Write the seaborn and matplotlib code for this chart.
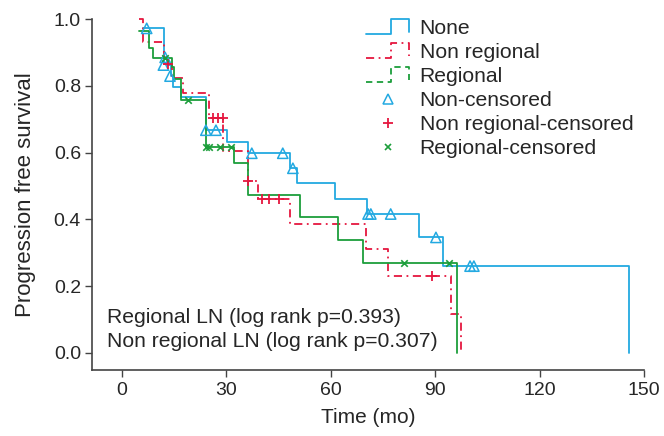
import numpy as np
import matplotlib
matplotlib.use("Agg")
import matplotlib.pyplot as plt
import seaborn as sns
from matplotlib.legend_handler import HandlerBase
from matplotlib.lines import Line2D

# step curves (time in months, progression free survival)
none_t = [6.1, 12.1, 13.0, 14.0, 14.8, 17.1, 24.1, 30.1, 36.1, 48.3, 50.2, 61.2, 70.5, 85.3, 92.3, 145.7]
none_s = [0.972, 0.885, 0.862, 0.829, 0.795, 0.765, 0.667, 0.633, 0.598, 0.553, 0.508, 0.462, 0.416, 0.346, 0.260, 0.0]

nonreg_t = [4.9, 6.1, 12.1, 14.5, 17.5, 25.0, 29.1, 36.1, 39.2, 48.3, 70.0, 76.3, 94.5, 97.3]
nonreg_s = [1.0, 0.932, 0.866, 0.822, 0.779, 0.703, 0.606, 0.515, 0.462, 0.386, 0.311, 0.231, 0.117, 0.0]

reg_t = [4.9, 7.8, 9.0, 14.3, 15.0, 17.1, 24.1, 32.2, 36.1, 51.1, 62.2, 69.3, 96.2]
reg_s = [0.965, 0.912, 0.884, 0.857, 0.820, 0.757, 0.618, 0.570, 0.474, 0.407, 0.339, 0.270, 0.0]

# censored observations
none_ct = [7.1, 12.4, 11.9, 13.8, 24.1, 27.0, 37.3, 46.2, 49.1, 70.7, 71.5, 77.2, 90.2, 100.0, 101.1]
none_cs = [0.972, 0.885, 0.862, 0.829, 0.667, 0.667, 0.598, 0.598, 0.553, 0.416, 0.416, 0.416, 0.346, 0.260, 0.260]

nonreg_ct = [13.3, 26.2, 27.7, 29.0, 36.3, 40.1, 42.1, 45.2, 89.0]
nonreg_cs = [0.866, 0.703, 0.703, 0.703, 0.515, 0.462, 0.462, 0.462, 0.231]

reg_ct = [12.4, 19.1, 24.1, 25.1, 28.2, 31.2, 81.1, 94.0]
reg_cs = [0.884, 0.757, 0.618, 0.618, 0.618, 0.618, 0.270, 0.270]

labels = ["None", "Non regional", "Regional",
          "Non-censored", "Non regional-censored", "Regional-censored"]
notes = ["Regional LN (log rank p=0.393)", "Non regional LN (log rank p=0.307)"]

blue = "#23A9E1"
red = "#E5173F"
green = "#1C9E3B"
dashdot = (0, (4.5, 2.5, 1, 2.5))

sns.set_style("ticks")
plt.rcParams["font.family"] = ["Liberation Sans", "DejaVu Sans"]


class StepHandler(HandlerBase):
    # legend key drawn as a little step  __|''|
    def create_artists(self, legend, orig_handle, xdescent, ydescent,
                       width, height, fontsize, trans):
        xs = np.array([0, 0.58, 0.58, 1, 1]) * width - xdescent
        ys = np.array([0, 0, 1, 1, 0.1]) * height - ydescent
        line = Line2D(xs, ys)
        line.update_from(orig_handle)
        line.set_transform(trans)
        return [line]


fig = plt.figure(figsize=(6.64, 4.36), dpi=100)
ax = fig.add_axes([0.1386, 0.1514, 0.8314, 0.805])

sns.lineplot(x=none_t, y=none_s, drawstyle="steps-post", color=blue, lw=1.3,
             sort=False, estimator=None, ax=ax, clip_on=False)
sns.lineplot(x=nonreg_t, y=nonreg_s, drawstyle="steps-post", color=red, lw=1.3,
             linestyle=dashdot, sort=False, estimator=None, ax=ax, clip_on=False)
sns.lineplot(x=reg_t, y=reg_s, drawstyle="steps-post", color=green, lw=1.3,
             sort=False, estimator=None, ax=ax, clip_on=False)

sns.scatterplot(x=none_ct, y=none_cs, marker="^", s=55, facecolor="none",
                edgecolor=blue, linewidth=1.1, ax=ax, zorder=3)
sns.scatterplot(x=nonreg_ct, y=nonreg_cs, marker="+", s=50, color=red,
                linewidth=1.3, ax=ax, zorder=3)
sns.scatterplot(x=reg_ct, y=reg_cs, marker="x", s=22, color=green,
                linewidth=1.2, ax=ax, zorder=3)

ax.set_xlim(-8.6, 150)
ax.set_ylim(-0.051, 1.0)
ax.set_xticks([0, 30, 60, 90, 120, 150])
ax.set_yticks([0.0, 0.2, 0.4, 0.6, 0.8, 1.0])
ax.set_yticklabels(["0.0", "0.2", "0.4", "0.6", "0.8", "1.0"])
ax.tick_params(labelsize=14, length=5, width=1, color="#444444", pad=3)
ax.tick_params(axis="x", pad=4)
for sp in ["left", "bottom"]:
    ax.spines[sp].set_color("#444444")
    ax.spines[sp].set_linewidth(1.2)
sns.despine(ax=ax)
ax.set_xlabel("Time (mo)", fontsize=15, labelpad=6)
ax.set_ylabel("Progression free survival", fontsize=16, labelpad=13)

ax.text(-4.3, 0.105, notes[0], fontsize=15.2, va="center")
ax.text(-4.3, 0.033, notes[1], fontsize=15.2, va="center")

h = [
    Line2D([], [], color=blue, lw=1.3),
    Line2D([], [], color=red, lw=1.3, linestyle=dashdot),
    Line2D([], [], color=green, lw=1.3, linestyle=(0, (3.5, 2.5))),
    Line2D([], [], color=blue, marker="^", mfc="none", mew=1.1, ms=6.5, ls="none"),
    Line2D([], [], color=red, marker="+", mew=1.3, ms=7, ls="none"),
    Line2D([], [], color=green, marker="x", mew=1.2, ms=4.5, ls="none"),
]
fig.legend(h, labels, handler_map={h[0]: StepHandler(), h[1]: StepHandler(), h[2]: StepHandler()},
           loc="upper left", bbox_to_anchor=(0.551, 0.957), frameon=False,
           fontsize=15.2, handlelength=2.05, handletextpad=0.5, labelspacing=0.24,
           borderpad=0, borderaxespad=0, numpoints=1)

fig.savefig("out.png", dpi=100)
